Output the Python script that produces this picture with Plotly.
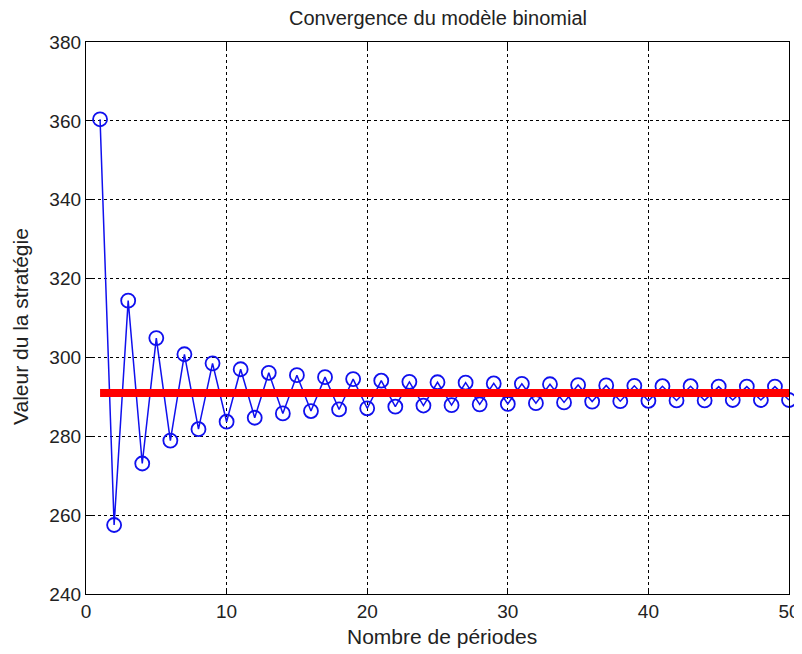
import plotly.graph_objects as go

periods = list(range(1, 51))
values = [360.4, 257.5, 314.4, 273.1, 304.9, 278.9, 300.8, 281.8, 298.5, 283.7,
          297.0, 284.7, 296.1, 285.8, 295.5, 286.4, 295.0, 286.8, 294.5, 287.1,
          294.1, 287.5, 293.8, 287.8, 293.7, 287.9, 293.6, 288.1, 293.4, 288.2,
          293.3, 288.4, 293.2, 288.6, 293.0, 288.8, 292.9, 288.9, 292.8, 289.0,
          292.7, 289.1, 292.7, 289.1, 292.6, 289.2, 292.6, 289.2, 292.6, 289.2]
limit_x = [1, 50]
limit_value = 291.0

title = "Convergence du modèle binomial"
xlabel = "Nombre de périodes"
ylabel = "Valeur du la stratégie"
xticks = [0, 10, 20, 30, 40, 50]
yticks = [240, 260, 280, 300, 320, 340, 360, 380]

font = "Liberation Sans, Arial, sans-serif"

fig = go.Figure()
fig.add_trace(go.Scatter(
    x=periods, y=values, mode="lines+markers",
    line=dict(color="#1010ee", width=1.5),
    marker=dict(symbol="circle-open", size=14, color="#1010ee", line=dict(width=1.8)),
    showlegend=False, cliponaxis=False))
fig.add_trace(go.Scatter(
    x=limit_x, y=[limit_value, limit_value], mode="lines",
    line=dict(color="#ff0000", width=8), showlegend=False))

axis_common = dict(
    showline=True, linecolor="black", linewidth=1.3, mirror="ticks",
    ticks="inside", ticklen=6, tickcolor="black", tickwidth=1.2,
    showgrid=True, gridcolor="black", griddash="dot", gridwidth=1.2,
    zeroline=False, automargin=False,
    tickfont=dict(family=font, size=19, color="#222"),
)

fig.update_layout(
    width=794, height=646,
    paper_bgcolor="white", plot_bgcolor="white",
    margin=dict(l=78, r=13, t=34, b=60),
    xaxis=dict(range=[0, 50], tickvals=xticks, **axis_common),
    yaxis=dict(range=[240, 380], tickvals=yticks, **axis_common),
    annotations=[
        dict(text=title, xref="paper", yref="paper", x=0.5, y=1, yshift=24,
             xanchor="center", yanchor="middle", showarrow=False,
             font=dict(family=font, size=20, color="#222")),
        dict(text=xlabel, xref="paper", yref="paper", x=0.5, y=0, yshift=-42, xshift=4,
             xanchor="center", yanchor="middle", showarrow=False,
             font=dict(family=font, size=21, color="#222")),
        dict(text=ylabel, xref="paper", yref="paper", x=0, xshift=-66, y=0.5, yshift=-9,
             xanchor="center", yanchor="middle", showarrow=False, textangle=-90,
             font=dict(family=font, size=21, color="#222")),
    ],
)
fig.write_html("out.html")
